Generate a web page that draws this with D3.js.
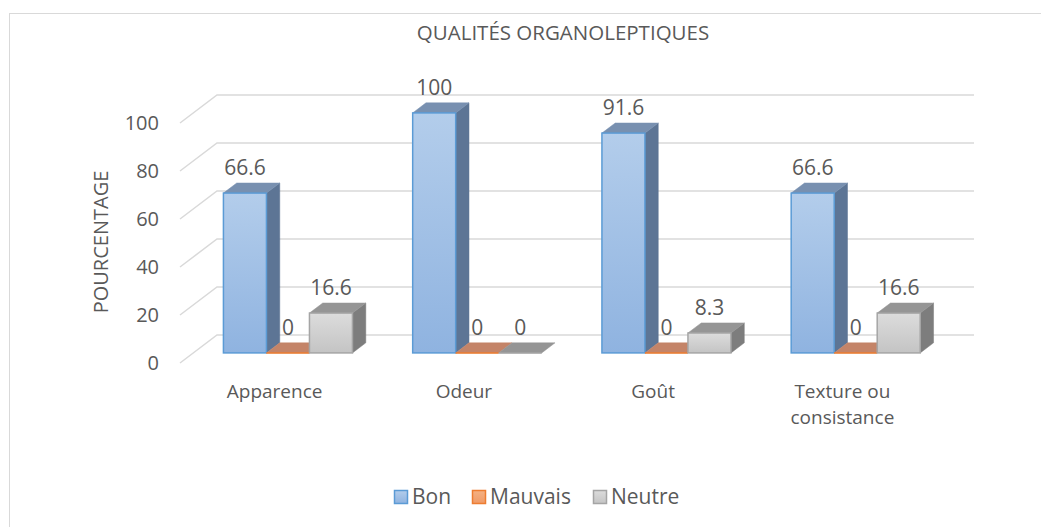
<!DOCTYPE html>
<html><head><meta charset="utf-8">
<script src="https://cdn.jsdelivr.net/npm/d3@7"></script>
<style>
html,body{margin:0;padding:0;background:#fff;}
svg text{font-family:"Open Sans","Noto Sans",sans-serif;fill:#595959;}
</style></head>
<body><svg id="c" width="1041" height="527"></svg>
<script>
const categories = ["Apparence", "Odeur", "Goût", "Texture ou consistance"];
const categoryLines = [["Apparence"], ["Odeur"], ["Goût"], ["Texture ou", "consistance"]];
const seriesNames = ["Bon", "Mauvais", "Neutre"];
const bon = [66.6, 100, 91.6, 66.6];
const mauvais = [0, 0, 0, 0];
const neutre = [16.6, 0, 8.3, 16.6];
const yTicks = [0, 20, 40, 60, 80, 100];
const title = "QUALITÉS ORGANOLEPTIQUES";
const yTitle = "POURCENTAGE";

const seriesValues = [bon, mauvais, neutre];
const styles = [
  {top:"#7890b0", side:"#5d7595", g0:"#b3cdeb", g1:"#8fb3e0", stroke:"#5b9bd5"},
  {top:"#c48468", side:"#a8603c", g0:"#f4b183", g1:"#f09a66", stroke:"#ed7d31"},
  {top:"#959595", side:"#7d7d7d", g0:"#dcdcdc", g1:"#c4c4c4", stroke:"#a5a5a5"}
];

const svg = d3.select("#c");
const defs = svg.append("defs");
styles.forEach((s,i)=>{
  const g = defs.append("linearGradient").attr("id","g"+i).attr("x1",0).attr("y1",0).attr("x2",0).attr("y2",1);
  g.append("stop").attr("offset","0%").attr("stop-color",s.g0);
  g.append("stop").attr("offset","100%").attr("stop-color",s.g1);
});

// border
svg.append("rect").attr("x",9.5).attr("y",13.5).attr("width",1040).attr("height",520)
  .attr("fill","none").attr("stroke","#d9d9d9").attr("stroke-width",1);

// 3D geometry (back wall + depth vector)
const wallX0 = 217, wallX1 = 974;
const depth = {dx:-37, dy:28};
const fFront = 0.64, fBack = 0.28;
const y = d3.scaleLinear().domain([0,100]).range([335,95]);
const x = d3.scaleBand().domain(categories).range([wallX0, wallX1]).padding(0);
const xs = d3.scaleBand().domain(seriesNames).range([0, x.bandwidth()]).paddingInner(0).paddingOuter(0.70);
const P = (xb, v, f) => [xb + depth.dx*f, y(v) + depth.dy*f];

// gridlines
const grid = svg.append("g");
yTicks.forEach(t=>{
  const a = P(wallX0, t, 1), b = P(wallX0, t, 0), c = P(wallX1, t, 0);
  grid.append("polyline").attr("points",[a,b,c].map(p=>p.join(",")).join(" "))
    .attr("fill","none").attr("stroke","#d9d9d9").attr("stroke-width",1.5);
});

// y tick labels
const yAxisG = svg.append("g");
yTicks.forEach(t=>{
  const a = P(wallX0, t, 1);
  yAxisG.append("text").attr("x", a[0]-21).attr("y", a[1]).attr("dy","0.35em")
    .attr("text-anchor","end").style("font-size","20px").text(t);
});

// y title
svg.append("text").attr("transform","translate(101,242) rotate(-90)")
  .attr("text-anchor","middle").attr("dy","0.35em").style("font-size","20px").text(yTitle);

// title
svg.append("text").attr("x",563).attr("y",33).attr("text-anchor","middle").attr("dy","0.35em")
  .style("font-size","20.5px").text(title);

// bars
const barsG = svg.append("g");
const labelsG = svg.append("g");
categories.forEach((cat,ci)=>{
  seriesNames.forEach((sn,si)=>{
    const v = seriesValues[si][ci];
    const s = styles[si];
    const xl = x(cat) + xs(sn), xr = xl + xs.bandwidth();
    const fBL = P(xl,0,fFront), fTL = P(xl,v,fFront), fTR = P(xr,v,fFront), fBR = P(xr,0,fFront);
    const bTL = P(xl,v,fBack), bTR = P(xr,v,fBack), bBR = P(xr,0,fBack);
    const g = barsG.append("g");
    const pts = a=>a.map(p=>p.join(",")).join(" ");
    if (v > 0) {
      g.append("polygon").attr("points",pts([fTR,bTR,bBR,fBR])).attr("fill",s.side)
        .attr("stroke",s.side).attr("stroke-width",0.5);
    }
    g.append("polygon").attr("points",pts([fTL,bTL,bTR,fTR])).attr("fill",s.top)
      .attr("stroke",s.top).attr("stroke-width",0.5);
    if (v > 0) {
      g.append("rect").attr("x",fTL[0]).attr("y",fTL[1]).attr("width",fTR[0]-fTL[0]).attr("height",fBL[1]-fTL[1])
        .attr("fill","url(#g"+si+")").attr("stroke",s.stroke).attr("stroke-width",1.5);
    } else {
      g.append("line").attr("x1",fBL[0]).attr("x2",fBR[0]).attr("y1",fBL[1]).attr("y2",fBR[1])
        .attr("stroke",s.stroke).attr("stroke-width",1.5);
    }
    labelsG.append("text").attr("x",(fTL[0]+fTR[0])/2).attr("y",bTL[1]-8)
      .attr("text-anchor","middle").style("font-size","21px").text(v);
  });
});

// category labels
categories.forEach((cat,ci)=>{
  const c = P(x(cat)+x.bandwidth()/2, 0, 1);
  categoryLines[ci].forEach((ln,li)=>{
    svg.append("text").attr("text-anchor","middle").style("font-size","19px")
      .attr("x",c[0]).attr("y",c[1]+35+li*26).text(ln);
  });
});

// legend
const legendX = [394, 472, 593];
const lg = svg.append("g");
seriesNames.forEach((sn,si)=>{
  const s = styles[si];
  lg.append("rect").attr("x",legendX[si]+0.5).attr("y",490.5).attr("width",13).attr("height",13)
    .attr("fill","url(#g"+si+")").attr("stroke",s.stroke).attr("stroke-width",1.5);
  lg.append("text").attr("x",legendX[si]+18).attr("y",497).attr("dy","0.35em")
    .style("font-size","21px").text(sn);
});
</script></body></html>
